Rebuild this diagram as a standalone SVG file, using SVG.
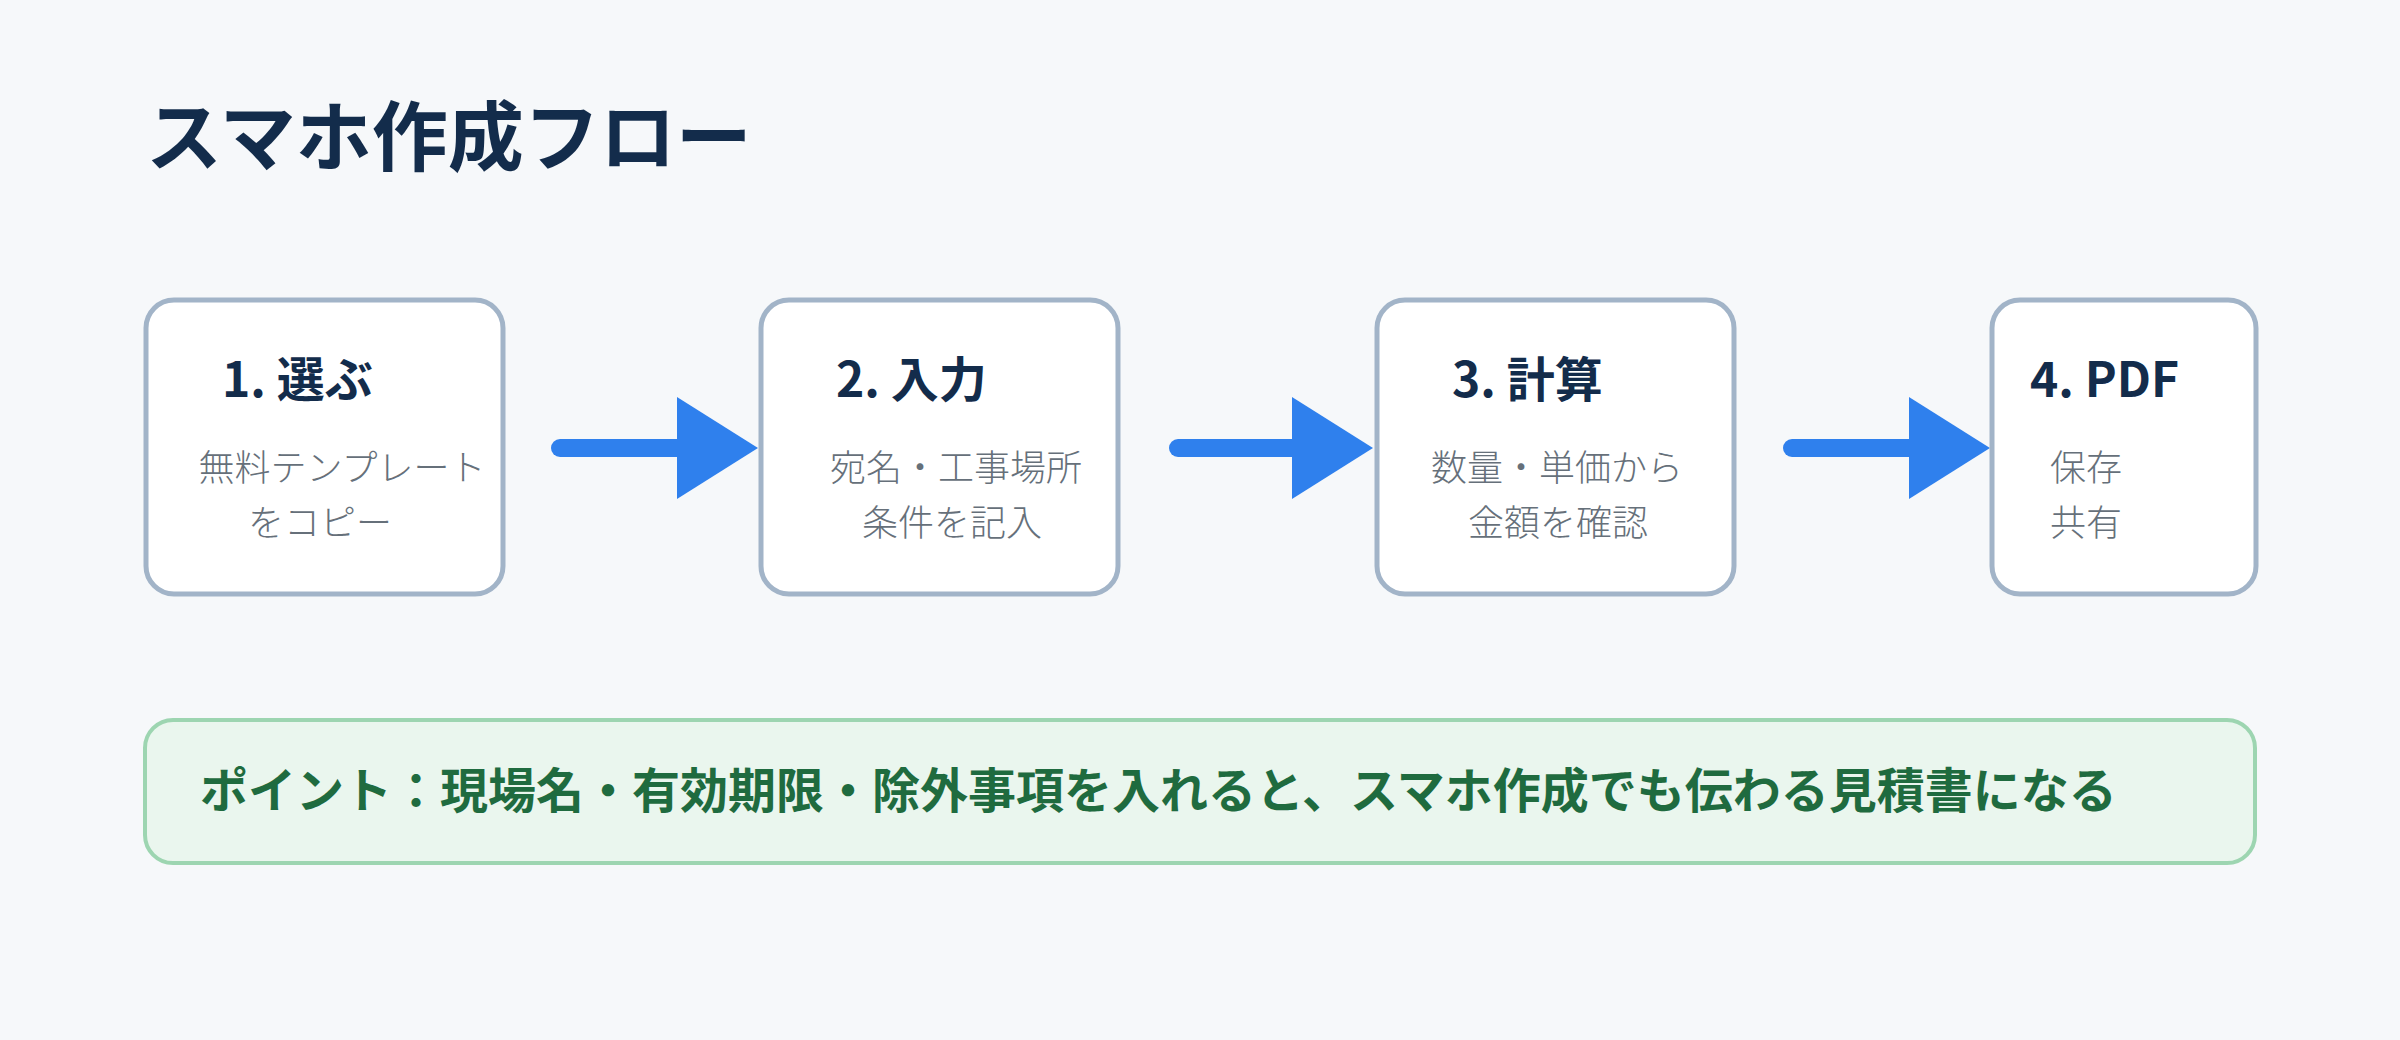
<svg xmlns="http://www.w3.org/2000/svg" width="2400" height="1040" viewBox="0 0 2400 1040">
<defs>
<style>
.bg{fill:#f6f8fa}
.title{font-family:"Noto Sans CJK JP","Noto Sans",sans-serif;font-weight:700;font-size:76px;fill:#132c4b}
.box{fill:#ffffff;stroke:#a2b4c8;stroke-width:5}
.head{font-family:"Noto Sans CJK JP","Noto Sans",sans-serif;font-weight:700;font-size:48px;fill:#132c4b}
.sub{font-family:"Noto Sans CJK JP","Noto Sans",sans-serif;font-weight:300;font-size:36px;fill:#66707a}
.mid{text-anchor:middle}
.shaft{stroke:#2f80ed;stroke-width:18;stroke-linecap:round;fill:none}
.point{fill:#eaf6ee;stroke:#9dd5b1;stroke-width:4}
.ptext{font-family:"Noto Sans CJK JP","Noto Sans",sans-serif;font-weight:700;font-size:48px;fill:#1f6b3f}
</style>
<marker id="ah" markerUnits="userSpaceOnUse" markerWidth="82" markerHeight="102" refX="0" refY="51" orient="auto" viewBox="0 0 82 102">
<path d="M0,0 L81,51 L0,102 Z" fill="#2f80ed"/>
</marker>
</defs>
<rect class="bg" x="0" y="0" width="2400" height="1040"/>
<text class="title" x="146" y="165">スマホ作成フロー</text>

<g id="connectors">
<line class="shaft" x1="560" y1="448" x2="677" y2="448" marker-end="url(#ah)"/>
<line class="shaft" x1="1178" y1="448" x2="1292" y2="448" marker-end="url(#ah)"/>
<line class="shaft" x1="1792" y1="448" x2="1909" y2="448" marker-end="url(#ah)"/>
</g>

<g id="step1">
<rect class="box" x="146" y="300" width="357" height="294" rx="28"/>
<text class="head" x="222" y="397">1. 選ぶ</text>
<text class="sub mid" x="342" y="481">無料テンプレート</text>
<text class="sub mid" x="320" y="536">をコピー</text>
</g>

<g id="step2">
<rect class="box" x="761" y="300" width="357" height="294" rx="28"/>
<text class="head" x="836" y="397">2. 入力</text>
<text class="sub mid" x="956" y="481">宛名・工事場所</text>
<text class="sub mid" x="952" y="536">条件を記入</text>
</g>

<g id="step3">
<rect class="box" x="1377" y="300" width="357" height="294" rx="28"/>
<text class="head" x="1452" y="397">3. 計算</text>
<text class="sub mid" x="1557" y="481">数量・単価から</text>
<text class="sub mid" x="1558" y="536">金額を確認</text>
</g>

<g id="step4">
<rect class="box" x="1992" y="300" width="264" height="294" rx="28"/>
<text class="head" x="2030" y="397">4. PDF</text>
<text class="sub" x="2050" y="481">保存</text>
<text class="sub" x="2050" y="536">共有</text>
</g>

<g id="point">
<rect class="point" x="145" y="720" width="2110" height="143" rx="28"/>
<text class="ptext" x="200" y="808">ポイント：現場名・有効期限・除外事項を入れると、スマホ作成でも伝わる見積書になる</text>
</g>
</svg>
